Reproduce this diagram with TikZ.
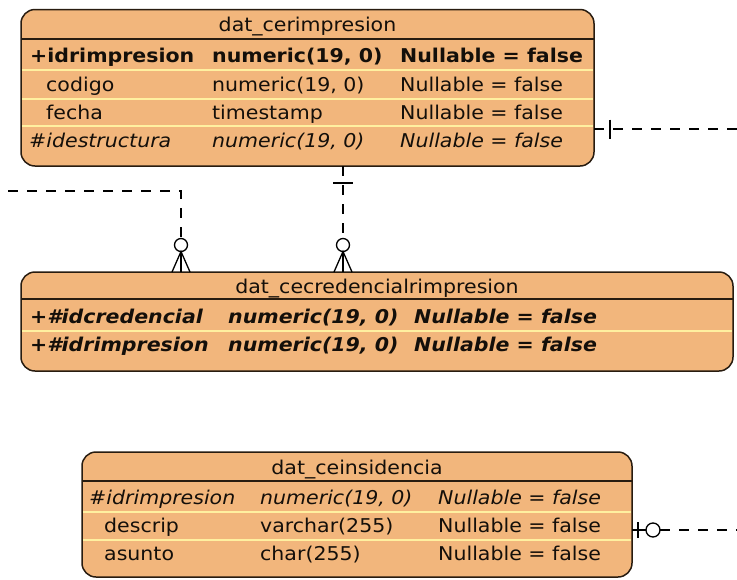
\documentclass[tikz,border=0pt]{standalone}
\usepackage{fontspec}
\setmainfont[FakeStretch=1.08]{DejaVu Sans}
\usetikzlibrary{calc}
\definecolor{tfill}{RGB}{242,182,124}
\definecolor{tsep}{RGB}{255,240,160}
\definecolor{tline}{RGB}{40,28,16}
\definecolor{ink}{RGB}{20,15,10}
\begin{document}
\begin{tikzpicture}[x=1pt,y=-1pt,
  tablebox/.style={draw=tline, fill=tfill, line width=1.5pt, rounded corners=14pt, inner sep=0pt, outer sep=0pt},
  hdr/.style={draw=tline, line width=1.5pt},
  rowsep/.style={draw=tsep, line width=2pt},
  txt/.style={anchor=base west, inner sep=0pt, text=ink, font=\fontsize{19}{21}\selectfont},
  ttl/.style={anchor=base, inner sep=0pt, text=ink, font=\fontsize{19}{21}\selectfont},
  conn/.style={draw=black, line width=1.3pt, dash pattern=on 10pt off 9pt},
  symline/.style={draw=black, line width=1.3pt},
  ring/.style={circle, draw=black, fill=white, line width=1.3pt, minimum size=13pt, inner sep=0pt, outer sep=0pt},
]
\useasboundingbox (0,0) rectangle (737,579);

% ---------- table 1 ----------
\node[tablebox, minimum width=573pt, minimum height=156.5pt] (t1) at (307.5,87.75) {};
\draw[hdr] (21,39) -- (594,39);
\draw[rowsep] (21.8,70) -- (593.2,70);
\draw[rowsep] (21.8,98.5) -- (593.2,98.5);
\draw[rowsep] (21.8,126) -- (593.2,126);
\node[ttl] (t1t) at (307.5,31.5) {dat\_cerimpresion};
\node[txt] (t1a1) at (30,62.5) {\bfseries +idrimpresion};
\node[txt] (t1b1) at (212,62.5) {\bfseries numeric(19, 0)};
\node[txt] (t1c1) at (400,62.5) {\bfseries Nullable = false};
\node[txt] (t1a2) at (46,91) {codigo};
\node[txt] (t1b2) at (212,91) {numeric(19, 0)};
\node[txt] (t1c2) at (400,91) {Nullable = false};
\node[txt] (t1a3) at (46,119.5) {fecha};
\node[txt] (t1b3) at (212,119.5) {timestamp};
\node[txt] (t1c3) at (400,119.5) {Nullable = false};
\node[txt] (t1a4) at (29,147.5) {\itshape \#idestructura};
\node[txt] (t1b4) at (212,147.5) {\itshape numeric(19, 0)};
\node[txt] (t1c4) at (400,147.5) {\itshape Nullable = false};

% ---------- table 2 ----------
\node[tablebox, minimum width=712pt, minimum height=99pt] (t2) at (377,321.5) {};
\draw[hdr] (21,299) -- (733,299);
\draw[rowsep] (21.8,331) -- (732.2,331);
\node[ttl] (t2t) at (377,293) {dat\_cecredencialrimpresion};
\node[txt] (t2a1) at (30,323) {\bfseries\itshape +\#idcredencial};
\node[txt] (t2b1) at (228,323) {\bfseries\itshape numeric(19, 0)};
\node[txt] (t2c1) at (414,323) {\bfseries\itshape Nullable = false};
\node[txt] (t2a2) at (30,351) {\bfseries\itshape +\#idrimpresion};
\node[txt] (t2b2) at (228,351) {\bfseries\itshape numeric(19, 0)};
\node[txt] (t2c2) at (414,351) {\bfseries\itshape Nullable = false};

% ---------- table 3 ----------
\node[tablebox, minimum width=550pt, minimum height=125pt] (t3) at (357,514.5) {};
\draw[hdr] (82,481) -- (632,481);
\draw[rowsep] (82.8,512) -- (631.2,512);
\draw[rowsep] (82.8,540) -- (631.2,540);
\node[ttl] (t3t) at (357,474) {dat\_ceinsidencia};
\node[txt] (t3a1) at (89,504) {\itshape \#idrimpresion};
\node[txt] (t3b1) at (260,504) {\itshape numeric(19, 0)};
\node[txt] (t3c1) at (438,504) {\itshape Nullable = false};
\node[txt] (t3a2) at (104,532) {descrip};
\node[txt] (t3b2) at (260,532) {varchar(255)};
\node[txt] (t3c2) at (438,532) {Nullable = false};
\node[txt] (t3a3) at (104,560) {asunto};
\node[txt] (t3b3) at (260,560) {char(255)};
\node[txt] (t3c3) at (438,560) {Nullable = false};

% ---------- connectors ----------
% left incoming to table 2
\coordinate (a1) at (8,191);
\node[ring] (r1) at (181,245) {};
\draw[conn] (a1) -| (r1.north);
\draw[symline] ($(r1.south |- t2.north)+(-9,0)$) -- (r1.south) -- ($(r1.south |- t2.north)+(9,0)$);
\draw[symline] (r1.south) -- (r1.south |- t2.north);

% table 1 -> table 2
\node[ring] (r2) at (343,245) {};
\draw[conn] (r2.north |- t1.south) -- (r2.north);
\draw[symline] (333,183) -- (353,183);
\draw[symline] ($(r2.south |- t2.north)+(-9,0)$) -- (r2.south) -- ($(r2.south |- t2.north)+(9,0)$);
\draw[symline] (r2.south) -- (r2.south |- t2.north);

% table 1 right
\coordinate (a2) at (737,129);
\draw[conn] (t1.east |- a2) -- (a2);
\draw[symline] (610,119.5) -- (610,139);

% table 3 right
\node[ring, minimum size=14pt] (r3) at (653,530) {};
\coordinate (a3) at (737,530);
\draw[symline] (t3.east |- r3.west) -- (r3.west);
\draw[symline] (638,522) -- (638,538);
\draw[conn] (r3.east) -- (a3);
\end{tikzpicture}
\end{document}
